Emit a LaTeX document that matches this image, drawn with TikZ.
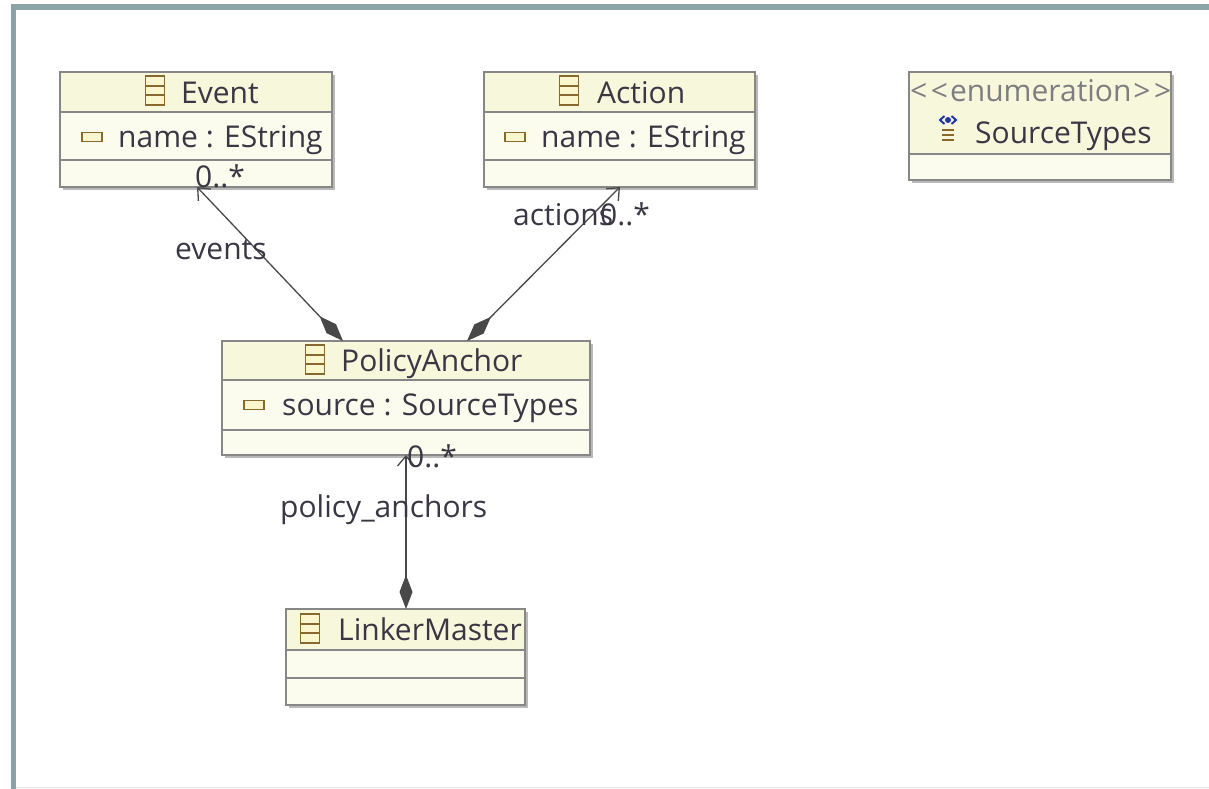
\documentclass[tikz,border=0pt]{standalone}
\usepackage{fontspec}
\setmainfont{Open Sans}
\usetikzlibrary{positioning,arrows.meta,shadows}

\definecolor{framecol}{RGB}{138,163,166}
\definecolor{headfill}{RGB}{247,247,220}
\definecolor{bodyfill}{RGB}{252,252,238}
\definecolor{boxline}{RGB}{135,135,135}
\definecolor{iconline}{RGB}{135,105,45}
\definecolor{iconfill}{RGB}{250,246,205}
\definecolor{txtcol}{RGB}{58,54,68}
\definecolor{stereocol}{RGB}{125,125,130}
\definecolor{assoccol}{RGB}{72,72,72}
\definecolor{enumblue}{RGB}{35,55,165}

\tikzset{
  umlbox/.style 2 args={anchor=north west, outer sep=0pt, inner sep=0pt,
    fill=bodyfill, draw=boxline, line width=1.5pt,
    drop shadow={shadow xshift=3pt,shadow yshift=-3pt,fill=black!50,opacity=.55},
    path picture={
      \fill[headfill] (path picture bounding box.north west) rectangle ([yshift=-#1]path picture bounding box.north east);
      \draw[boxline,line width=1.5pt]
        ([yshift=-#1]path picture bounding box.north west) -- ([yshift=-#1]path picture bounding box.north east)
        ([yshift=-#2]path picture bounding box.north west) -- ([yshift=-#2]path picture bounding box.north east);}},
  txt/.style={anchor=base west, inner sep=0pt, text=txtcol, font=\fontsize{30}{35}\selectfont},
  clsicon/.style={draw=iconline, fill=iconfill, line width=1.8pt, inner sep=0pt,
    minimum width=19pt, minimum height=29pt,
    path picture={\draw[iconline,line width=1.5pt]
      ([yshift=-9.8pt]path picture bounding box.north west) -- ([yshift=-9.8pt]path picture bounding box.north east)
      ([yshift=9.8pt]path picture bounding box.south west) -- ([yshift=9.8pt]path picture bounding box.south east);}},
  attricon/.style={draw=iconline, fill=iconfill, line width=1.8pt, inner sep=0pt,
    minimum width=20pt, minimum height=9pt},
  assoc/.style={draw=assoccol, line width=1.3pt,
    {Diamond[length=34pt,width=13pt,fill=assoccol]}-{Straight Barb[length=10pt,width=17pt]}}
}

\begin{document}
\begin{tikzpicture}[x=1pt,y=-1pt]
  \useasboundingbox[fill=white] (0,0) rectangle (1209,789);
  \fill[framecol] (11,4) rectangle (1209,10);
  \fill[framecol] (11,4) rectangle (16,789);
  \draw[black!10] (16,787.5) -- (1209,787.5);

  % classes
  \node[umlbox={40pt}{88pt}, minimum width=272pt, minimum height=115pt] (event) at (60,72) {};
  \node[umlbox={40pt}{88pt}, minimum width=271pt, minimum height=115pt] (action) at (484,72) {};
  \node[umlbox={82pt}{82pt}, minimum width=262pt, minimum height=108pt] (srctypes) at (909,72) {};
  \node[umlbox={39pt}{89pt}, minimum width=368pt, minimum height=114pt] (policy) at (222,341) {};
  \node[umlbox={41pt}{69pt}, minimum width=239pt, minimum height=96pt] (linker) at (286,609) {};

  \node[clsicon] (event-i) at (155,90.5) {};
  \node[txt] (event-t) at (181,103) {Event};
  \node[attricon] (event-ai) at (92,137) {};
  \node[txt] (event-a) at (118,147) {name : EString};

  \node[clsicon] (action-i) at (569,90.5) {};
  \node[txt] (action-t) at (597,103) {Action};
  \node[attricon] (action-ai) at (515,137) {};
  \node[txt] (action-a) at (541,147) {name : EString};

  \node[txt,text=stereocol] (srctypes-s) at (910,102)
    {<\kern3.5pt<\kern2pt enumeration\kern2pt>\kern3.5pt>};
  \node[txt] (srctypes-t) at (975,143) {SourceTypes};
  \node[inner sep=0pt, minimum width=18pt, minimum height=24pt] (srctypes-i) at (948,129) {};
  \begin{scope}[shift={(srctypes-i.center)}]
    \draw[enumblue, line width=2pt] (-3.5,-13) -- (-8,-9) -- (-3.5,-5) (3.5,-13) -- (8,-9) -- (3.5,-5);
    \fill[enumblue] (0,-9) circle (3pt);
    \draw[iconline, line width=2pt] (-6,1) -- (6,1) (-6,6) -- (6,6) (-6,11) -- (6,11);
  \end{scope}

  \node[clsicon] (policy-i) at (315,359.5) {};
  \node[txt] (policy-t) at (341,371) {PolicyAnchor};
  \node[attricon] (policy-ai) at (254,405) {};
  \node[txt] (policy-a) at (282,415) {source : SourceTypes};

  \node[clsicon] (linker-i) at (310,628.5) {};
  \node[txt] (linker-t) at (338,640) {LinkerMaster};

  % associations
  \draw[assoc] ([xshift=121pt]policy.north west) -- ([xshift=137pt]event.south west);
  \draw[assoc] ([xshift=245pt]policy.north west) -- ([xshift=136pt]action.south west);
  \draw[assoc] ([xshift=120pt]linker.north west) -- ([xshift=184pt]policy.south west);

  \node[txt] (events-m) at (195,187) {0..*};
  \node[txt] (events-r) at (175,259) {events};
  \node[txt] (actions-r) at (513,225) {actions};
  \node[txt] (actions-m) at (600,225) {0..*};
  \node[txt] (anchors-r) at (280,517) {policy\_anchors};
  \node[txt] (anchors-m) at (407,467) {0..*};
\end{tikzpicture}
\end{document}
